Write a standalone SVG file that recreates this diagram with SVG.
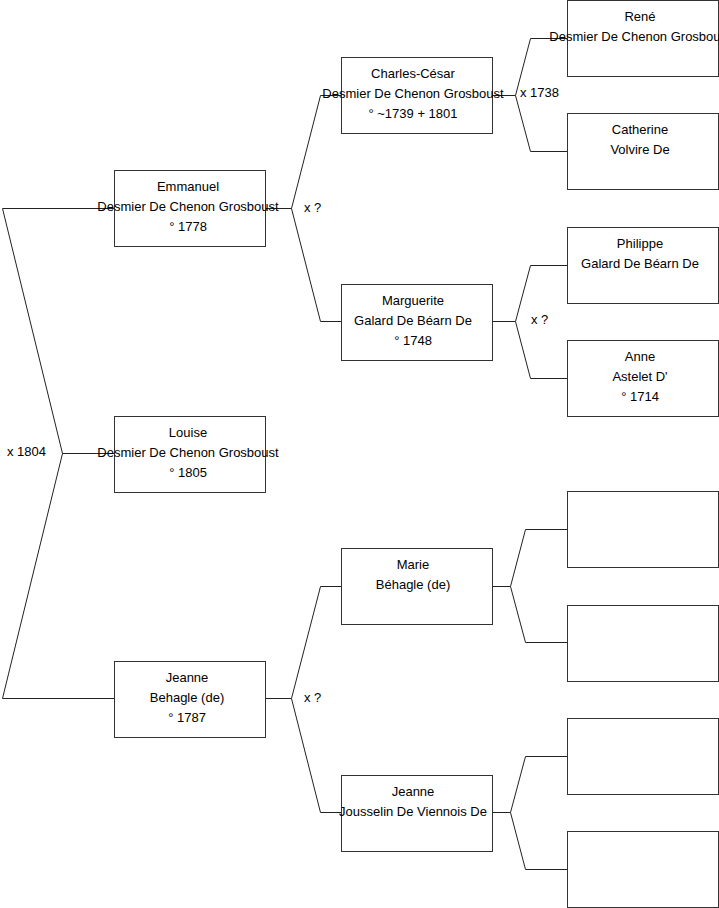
<svg xmlns="http://www.w3.org/2000/svg" width="719" height="908" viewBox="0 0 719 908">
<style>
.box{fill:#fff;stroke:#333;stroke-width:1}
.ln{fill:none;stroke:#222;stroke-width:1}
text{font-family:"Liberation Sans",Arial,sans-serif;font-size:13px;fill:#000}
.c{text-anchor:middle}
</style>
<rect x="0" y="0" width="719" height="908" fill="#fff"/>
<g id="connectors">
<polyline class="ln" points="114,208.5 2.5,208.5 62.5,453.5 2.5,698.5 114,698.5"/>
<line class="ln" x1="62.5" y1="453.5" x2="114" y2="453.5"/>
<polyline class="ln" points="341,95.5 320.5,95.5 291.5,208.5 320.5,321.5 341,321.5"/>
<line class="ln" x1="265" y1="208.5" x2="291.5" y2="208.5"/>
<polyline class="ln" points="341,586.5 320.5,586.5 291.5,698.5 320.5,812.5 341,812.5"/>
<line class="ln" x1="265" y1="698.5" x2="291.5" y2="698.5"/>
<polyline class="ln" points="567,38.5 530.5,38.5 515.5,95.5 530.5,151.5 567,151.5"/>
<line class="ln" x1="492" y1="95.5" x2="515.5" y2="95.5"/>
<polyline class="ln" points="567,265.5 530.5,265.5 515.5,321.5 530.5,378.5 567,378.5"/>
<line class="ln" x1="492" y1="321.5" x2="515.5" y2="321.5"/>
<polyline class="ln" points="567,529.5 525.5,529.5 510.5,586.5 525.5,642.5 567,642.5"/>
<line class="ln" x1="492" y1="586.5" x2="510.5" y2="586.5"/>
<polyline class="ln" points="567,756.5 525.5,756.5 510.5,812.5 525.5,869.5 567,869.5"/>
<line class="ln" x1="492" y1="812.5" x2="510.5" y2="812.5"/>
<text x="7" y="456">x 1804</text>
<text x="304" y="212">x ?</text>
<text x="304" y="702">x ?</text>
<text x="520" y="97">x 1738</text>
<text x="531" y="324">x ?</text>
</g>
<g id="emmanuel"><rect class="box" x="114.5" y="170.5" width="151" height="76"/>
<text class="c" x="188" y="191">Emmanuel</text><text class="c" x="188" y="211">Desmier De Chenon Grosboust</text><text class="c" x="188" y="231">° 1778</text></g>
<g id="louise"><rect class="box" x="114.5" y="416.5" width="151" height="76"/>
<text class="c" x="188" y="437">Louise</text><text class="c" x="188" y="457">Desmier De Chenon Grosboust</text><text class="c" x="188" y="477">° 1805</text></g>
<g id="jeanne1"><rect class="box" x="114.5" y="661.5" width="151" height="76"/>
<text class="c" x="187" y="682">Jeanne</text><text class="c" x="187" y="702">Behagle (de)</text><text class="c" x="187" y="722">° 1787</text></g>
<g id="charles"><rect class="box" x="341.5" y="57.5" width="151" height="76"/>
<text class="c" x="413" y="78">Charles-César</text><text class="c" x="413" y="98">Desmier De Chenon Grosboust</text><text class="c" x="413" y="118">° ~1739 + 1801</text></g>
<g id="marguerite"><rect class="box" x="341.5" y="284.5" width="151" height="76"/>
<text class="c" x="413" y="305">Marguerite</text><text class="c" x="413" y="325">Galard De Béarn De</text><text class="c" x="413" y="345">° 1748</text></g>
<g id="marie"><rect class="box" x="341.5" y="548.5" width="151" height="76"/>
<text class="c" x="413" y="569">Marie</text><text class="c" x="413" y="589">Béhagle (de)</text></g>
<g id="jeanne2"><rect class="box" x="341.5" y="775.5" width="151" height="76"/>
<text class="c" x="413" y="796">Jeanne</text><text class="c" x="413" y="816">Jousselin De Viennois De</text></g>
<g id="rene"><rect class="box" x="567.5" y="0.5" width="151" height="76"/>
<text class="c" x="640" y="21">René</text><text class="c" x="640" y="41">Desmier De Chenon Grosboust</text></g>
<g id="catherine"><rect class="box" x="567.5" y="113.5" width="151" height="76"/>
<text class="c" x="640" y="134">Catherine</text><text class="c" x="640" y="154">Volvire De</text></g>
<g id="philippe"><rect class="box" x="567.5" y="227.5" width="151" height="76"/>
<text class="c" x="640" y="248">Philippe</text><text class="c" x="640" y="268">Galard De Béarn De</text></g>
<g id="anne"><rect class="box" x="567.5" y="340.5" width="151" height="76"/>
<text class="c" x="640" y="361">Anne</text><text class="c" x="640" y="381">Astelet D'</text><text class="c" x="640" y="401">° 1714</text></g>
<g id="empty1"><rect class="box" x="567.5" y="491.5" width="151" height="76"/></g>
<g id="empty2"><rect class="box" x="567.5" y="605.5" width="151" height="76"/></g>
<g id="empty3"><rect class="box" x="567.5" y="718.5" width="151" height="76"/></g>
<g id="empty4"><rect class="box" x="567.5" y="831.5" width="151" height="76"/></g>
</svg>
